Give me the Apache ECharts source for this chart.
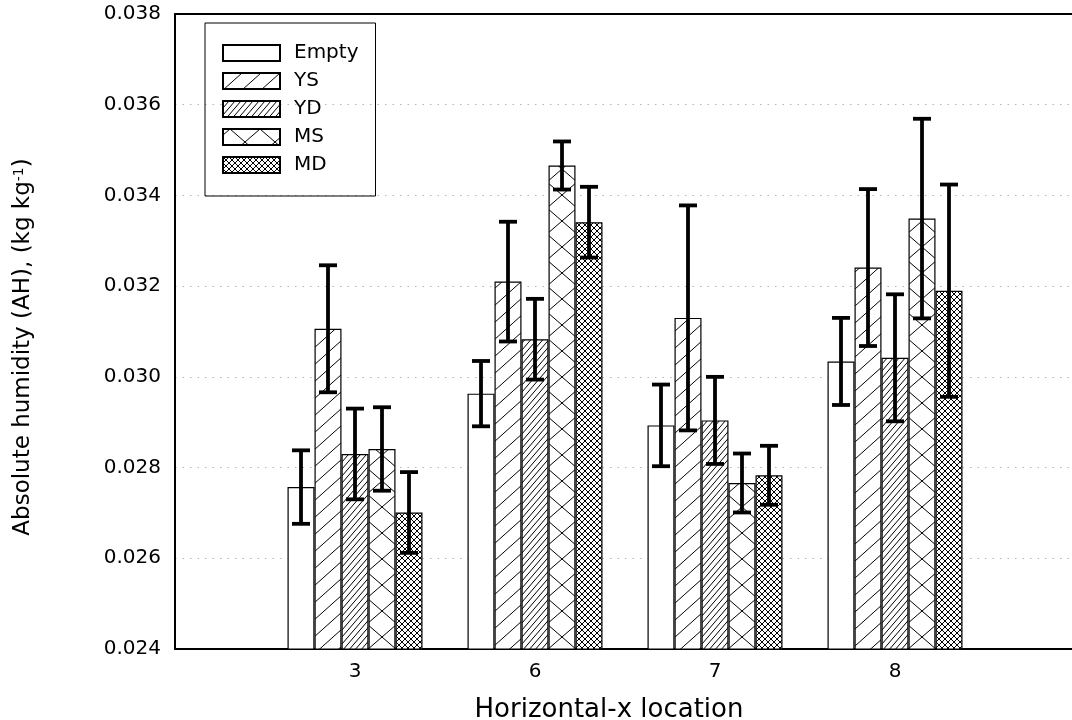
<!DOCTYPE html>
<html><head><meta charset="utf-8">
<script src="https://cdn.jsdelivr.net/npm/echarts@6.0.0/dist/echarts.min.js"></script>
<style>html,body{margin:0;padding:0;background:#fff}#c{width:1072px;height:720px}</style>
</head><body><div id="c"></div>
<script>
// ---- data ----
const categories = ['3', '6', '7', '8'];
const seriesNames = ['Empty', 'YS', 'YD', 'MS', 'MD'];
const emptyVals = [0.02757, 0.02963, 0.02893, 0.03034];
const emptyErr  = [0.00081, 0.00072, 0.00090, 0.00096];
const ysVals    = [0.03106, 0.03210, 0.03130, 0.03241];
const ysErr     = [0.00140, 0.00132, 0.00248, 0.00173];
const ydVals    = [0.02830, 0.03083, 0.02904, 0.03042];
const ydErr     = [0.00100, 0.00089, 0.00096, 0.00140];
const msVals    = [0.02841, 0.03466, 0.02766, 0.03349];
const msErr     = [0.00092, 0.00053, 0.00065, 0.00220];
const mdVals    = [0.02701, 0.03341, 0.02783, 0.03190];
const mdErr     = [0.00089, 0.00078, 0.00065, 0.00234];
const yTicks = { min: 0.024, max: 0.038, step: 0.002 };

// ---- styling ----
const FONT = 'DejaVu Sans';
const BAR_W = 27, CAP = 18;

function makePattern(w, h, dirs, lw) {
  const c = document.createElement('canvas');
  c.width = w; c.height = h;
  const g = c.getContext('2d');
  g.fillStyle = '#fff'; g.fillRect(0, 0, w, h);
  g.strokeStyle = '#000'; g.lineWidth = lw;
  dirs.forEach(function (d) {
    [-1, 0, 1].forEach(function (s) {
      g.beginPath();
      if (d === '/') { g.moveTo(s * w, h); g.lineTo(s * w + w, 0); }
      else { g.moveTo(s * w, 0); g.lineTo(s * w + w, h); }
      g.stroke();
    });
  });
  return c;
}
const fills = [
  '#ffffff',
  { image: makePattern(19, 17, ['/'], 1), repeat: 'repeat' },
  { image: makePattern(6, 7, ['/'], 1), repeat: 'repeat' },
  { image: makePattern(30, 26, ['/', '\\'], 1), repeat: 'repeat', x: 7 },
  { image: makePattern(6, 6, ['/', '\\'], 1), repeat: 'repeat' }
];

const allVals = [emptyVals, ysVals, ydVals, msVals, mdVals];
const allErr = [emptyErr, ysErr, ydErr, msErr, mdErr];
const axisCats = [''].concat(categories, ['']);

const barSeries = seriesNames.map(function (name, si) {
  return {
    name: name, type: 'bar', barWidth: BAR_W, barGap: '0%',
    itemStyle: { color: fills[si], borderColor: '#000', borderWidth: 1.2 },
    data: ['-'].concat(allVals[si], ['-']),
    z: 2
  };
});

const errData = [];
allVals.forEach(function (vals, si) {
  vals.forEach(function (v, ci) {
    errData.push([ci + 1, si, v - allErr[si][ci], v + allErr[si][ci]]);
  });
});

const errSeries = {
  type: 'custom', name: 'err', z: 5,
  encode: { x: 0, y: [2, 3] },
  data: errData,
  renderItem: function (params, api) {
    const ci = api.value(0), si = api.value(1);
    const pLo = api.coord([ci, api.value(2)]);
    const pHi = api.coord([ci, api.value(3)]);
    const cx = pLo[0] + (si - 2) * BAR_W;
    const st = { stroke: '#000', lineWidth: 3.8 };
    return {
      type: 'group', children: [
        { type: 'line', shape: { x1: cx, y1: pLo[1], x2: cx, y2: pHi[1] }, style: st },
        { type: 'line', shape: { x1: cx - CAP / 2, y1: pHi[1], x2: cx + CAP / 2, y2: pHi[1] }, style: st },
        { type: 'line', shape: { x1: cx - CAP / 2, y1: pLo[1], x2: cx + CAP / 2, y2: pLo[1] }, style: st }
      ]
    };
  }
};

const chart = echarts.init(document.getElementById('c'), null, { renderer: 'canvas' });
chart.setOption({
  animation: false,
  backgroundColor: '#fff',
  grid: { left: 175, top: 14, width: 900, height: 635, containLabel: false, outerBoundsMode: 'none', show: false },
  legend: {
    data: seriesNames, orient: 'vertical', left: 205, top: 23,
    itemWidth: 57, itemHeight: 16, itemGap: 8, icon: 'rect',
    padding: [20, 17, 21, 17], borderColor: '#000', borderWidth: 1,
    selectedMode: false,
    textStyle: { fontFamily: FONT, fontSize: 20, color: '#000', padding: [0, 0, 0, 9] }
  },
  xAxis: [{
    type: 'category', data: axisCats, boundaryGap: false,
    axisLine: { show: true, lineStyle: { color: '#000', width: 2 } }, axisTick: { show: false },
    axisLabel: { interval: 0, margin: 13, fontFamily: FONT, fontSize: 20, color: '#000' },
    splitLine: { show: false },
    name: 'Horizontal-x location', nameLocation: 'middle', nameGap: 48,
    nameTextStyle: { fontFamily: FONT, fontSize: 26, color: '#000', padding: [0, 32, 0, 0] }
  }, {
    type: 'category', data: axisCats, boundaryGap: false, position: 'top',
    axisLine: { show: true, lineStyle: { color: '#000', width: 2 } },
    axisTick: { show: false }, axisLabel: { show: false }, splitLine: { show: false }
  }],
  yAxis: {
    type: 'value', min: yTicks.min, max: yTicks.max, interval: yTicks.step,
    axisLine: { show: true, lineStyle: { color: '#000', width: 2 } }, axisTick: { show: false },
    axisLabel: { margin: 14, fontFamily: FONT, fontSize: 20, color: '#000', formatter: function (v) { return v.toFixed(3); } },
    splitLine: { show: true, lineStyle: { color: '#b5b5b5', width: 1, type: [1.5, 6] } },
    name: '{a|Absolute humidity (AH), (kg kg}{s|-1}{a|)}',
    nameLocation: 'middle', nameRotate: 90, nameGap: 140,
    nameTextStyle: {
      padding: [0, 31, 0, 0],
      rich: {
        a: { fontFamily: FONT, fontSize: 23, color: '#000' },
        s: { fontFamily: FONT, fontSize: 14, color: '#000', verticalAlign: 'top' }
      }
    }
  },
  series: barSeries.concat([errSeries])
});
</script></body></html>
